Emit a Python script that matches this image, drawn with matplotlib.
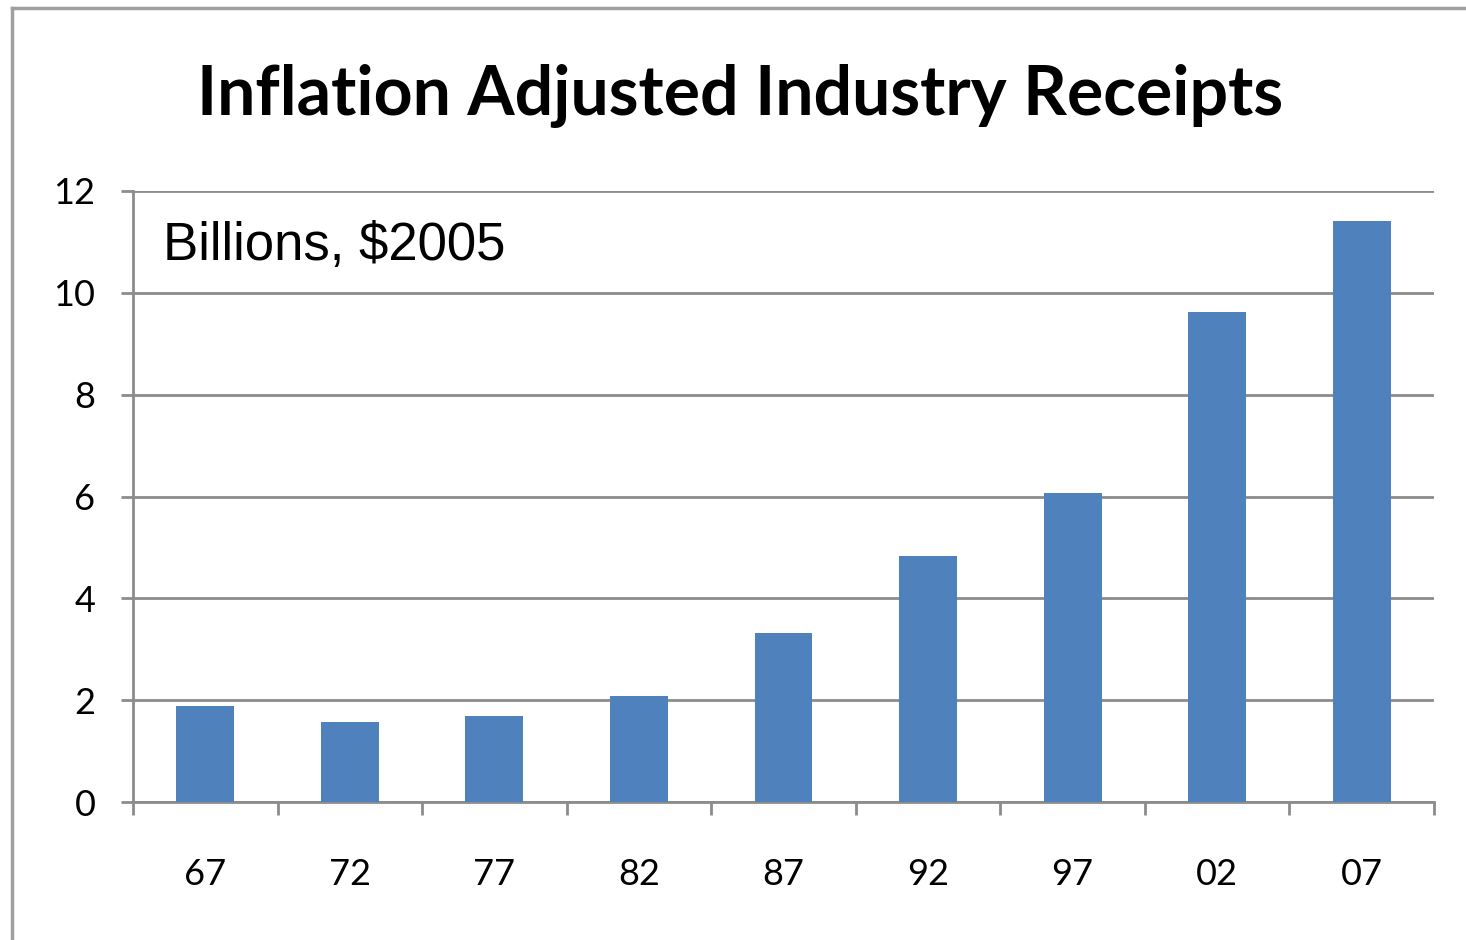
import matplotlib.pyplot as plt
from matplotlib.lines import Line2D

years = ["67", "72", "77", "82", "87", "92", "97", "02", "07"]
receipts = [1.89, 1.57, 1.69, 2.09, 3.31, 4.84, 6.06, 9.63, 11.42]
y_ticks = [0, 2, 4, 6, 8, 10, 12]

BAR = "#4F81BD"
GRID = "#8C8C8C"

fig = plt.figure(figsize=(14.66, 9.4), dpi=100)
ax = fig.add_axes([133 / 1466, 1 - 802 / 940, (1434 - 133) / 1466, (802 - 191) / 940])

x = list(range(len(years)))
ax.bar(x, receipts, width=0.4, color=BAR, zorder=3)

ax.set_xlim(-0.5, len(years) - 0.5)
ax.set_ylim(0, 12)
ax.set_yticks(y_ticks)
ax.set_yticklabels([str(v) for v in y_ticks], fontfamily="Lato", fontsize=26)
ax.yaxis.grid(True, color=GRID, linewidth=2)
ax.set_axisbelow(True)

# category boundaries carry the ticks, labels sit between them
ax.set_xticks([i - 0.5 for i in range(len(years) + 1)])
ax.set_xticklabels([])
ax.set_xticks(x, minor=True)
ax.set_xticklabels(years, minor=True, fontfamily="Lato", fontsize=26)
ax.tick_params(axis="x", which="major", length=9, width=2, color=GRID, direction="out")
ax.tick_params(axis="x", which="minor", length=0, pad=40)
ax.tick_params(axis="y", length=9, width=2, color=GRID, pad=18)

for side in ("top", "right"):
    ax.spines[side].set_visible(False)
for side in ("left", "bottom"):
    ax.spines[side].set_color(GRID)
    ax.spines[side].set_linewidth(2)

fig.text(0.505, 1 - 96 / 940, "Inflation Adjusted Industry Receipts",
         ha="center", va="center", fontfamily="Lato", fontweight="bold", fontsize=49)
ax.text(0.023, 0.91, "Billions, $2005", transform=ax.transAxes, ha="left", va="center",
        fontfamily="Liberation Sans", fontsize=38)

# outer chart frame, cut by the picture edge on the right and bottom
fx, fy = 12 / 1466, 1 - 8 / 940
fig.add_artist(Line2D([fx, fx], [0, fy], color="#A0A0A0", linewidth=2.5, transform=fig.transFigure))
fig.add_artist(Line2D([fx, 1], [fy, fy], color="#A0A0A0", linewidth=2.5, transform=fig.transFigure))

fig.savefig("out.png", dpi=100)
